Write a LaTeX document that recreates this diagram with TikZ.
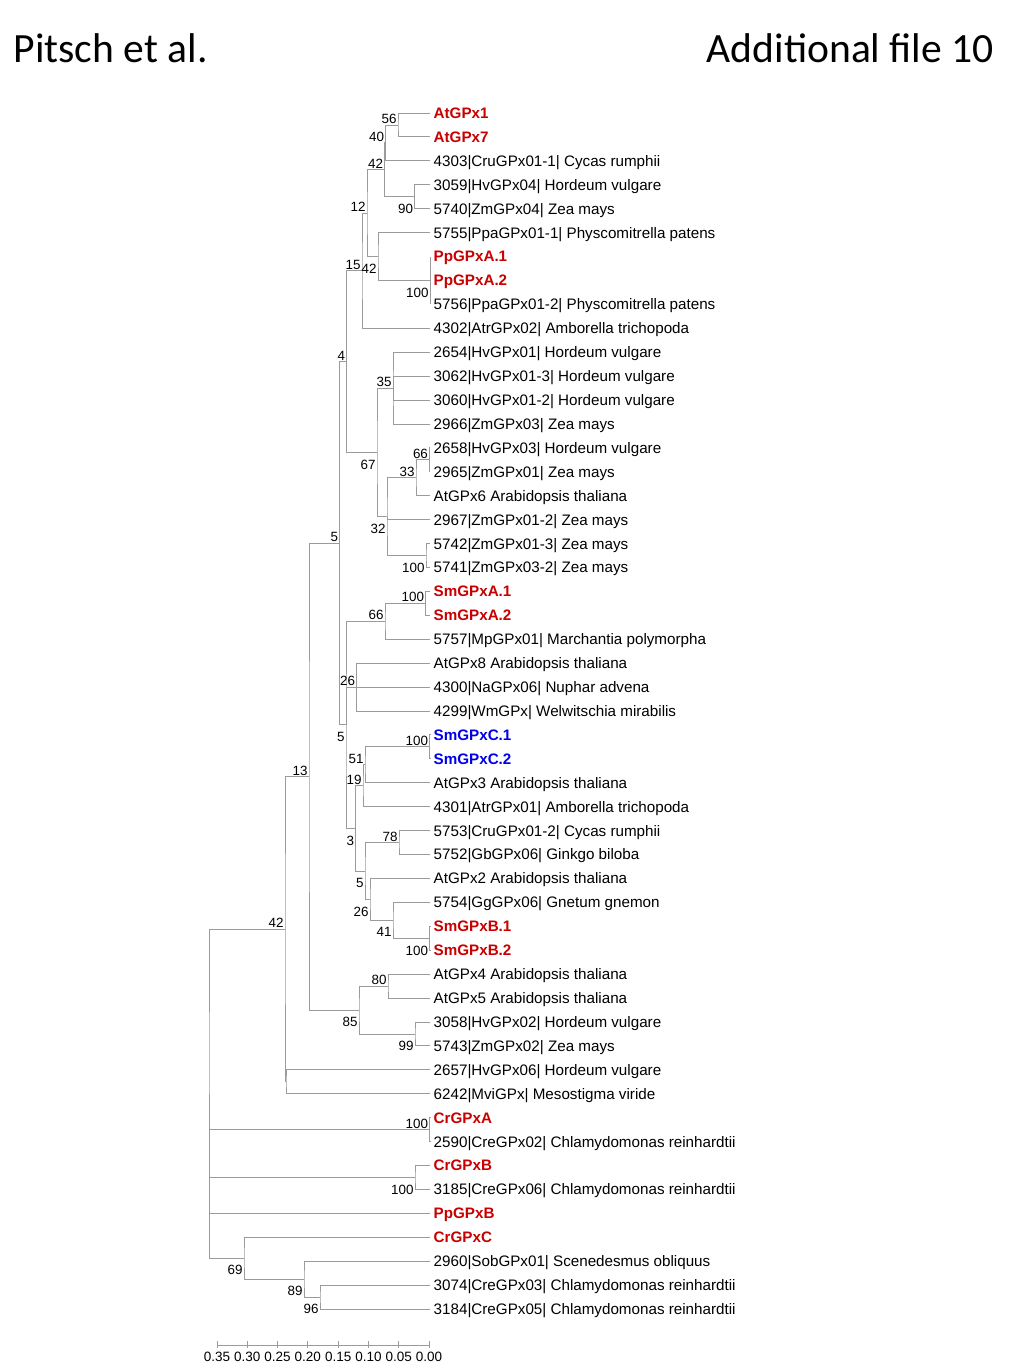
\documentclass[tikz,border=0pt]{standalone}
\usepackage{fontspec}
\setmainfont{Liberation Sans}
\newfontfamily\hdrfont{Carlito}
\definecolor{gpxred}{RGB}{200,0,0}
\definecolor{gpxblue}{RGB}{0,0,230}
\definecolor{branchgray}{RGB}{155,155,155}
\begin{document}
\begin{tikzpicture}[x=1pt,y=-1pt,
    leaf/.style={anchor=west,inner xsep=3.5pt,inner ysep=0pt,text height=10.9pt,text depth=0pt,font=\fontsize{15.2}{16}\selectfont},
    hl/.style={leaf,text=gpxred,font=\fontsize{15.2}{16}\selectfont\bfseries},
    hlb/.style={leaf,text=gpxblue,font=\fontsize{15.2}{16}\selectfont\bfseries},
    boot/.style={inner sep=1.2pt,font=\fontsize{13.4}{14}\selectfont},
    bup/.style={boot,above left},
    bdn/.style={boot,below left,yshift=-6pt},
    branch/.style={draw=branchgray,line width=0.9pt},
    hdr/.style={inner sep=0pt,font=\hdrfont\fontsize{41.6}{44}\selectfont}]
                \useasboundingbox (0,0) rectangle (1024,1365);
                \node[hdr,anchor=base west] (hdrl) at (13.5,62) {Pitsch et al.};
                \node[hdr,anchor=base east] (hdrr) at (994,62) {Additional file 10};

                \node[hl] (atgpx1) at (430,113.0) {AtGPx1};
                \node[hl] (atgpx7) at (430,136.9) {AtGPx7};
                \node[leaf] (cru1) at (430,160.8) {4303|CruGPx01-1| Cycas rumphii};
                \node[leaf] (hv04) at (430,184.8) {3059|HvGPx04| Hordeum vulgare};
                \node[leaf] (zm04) at (430,208.7) {5740|ZmGPx04| Zea mays};
                \node[leaf] (ppa1) at (430,232.6) {5755|PpaGPx01-1| Physcomitrella patens};
                \node[hl] (ppxa1) at (430,256.5) {PpGPxA.1};
                \node[hl] (ppxa2) at (430,280.4) {PpGPxA.2};
                \node[leaf] (ppa2) at (430,304.4) {5756|PpaGPx01-2| Physcomitrella patens};
                \node[leaf] (atr02) at (430,328.3) {4302|AtrGPx02| Amborella trichopoda};
                \node[leaf] (hv01) at (430,352.2) {2654|HvGPx01| Hordeum vulgare};
                \node[leaf] (hv013) at (430,376.1) {3062|HvGPx01-3| Hordeum vulgare};
                \node[leaf] (hv012) at (430,400.0) {3060|HvGPx01-2| Hordeum vulgare};
                \node[leaf] (zm03) at (430,424.0) {2966|ZmGPx03| Zea mays};
                \node[leaf] (hv03) at (430,447.9) {2658|HvGPx03| Hordeum vulgare};
                \node[leaf] (zm01) at (430,471.8) {2965|ZmGPx01| Zea mays};
                \node[leaf] (atgpx6) at (430,495.7) {AtGPx6 Arabidopsis thaliana};
                \node[leaf] (zm012) at (430,519.6) {2967|ZmGPx01-2| Zea mays};
                \node[leaf] (zm013) at (430,543.6) {5742|ZmGPx01-3| Zea mays};
                \node[leaf] (zm032) at (430,567.5) {5741|ZmGPx03-2| Zea mays};
                \node[hl] (smxa1) at (430,591.4) {SmGPxA.1};
                \node[hl] (smxa2) at (430,615.3) {SmGPxA.2};
                \node[leaf] (mp01) at (430,639.2) {5757|MpGPx01| Marchantia polymorpha};
                \node[leaf] (atgpx8) at (430,663.2) {AtGPx8 Arabidopsis thaliana};
                \node[leaf] (na06) at (430,687.1) {4300|NaGPx06| Nuphar advena};
                \node[leaf] (wm) at (430,711.0) {4299|WmGPx| Welwitschia mirabilis};
                \node[hlb] (smxc1) at (430,734.9) {SmGPxC.1};
                \node[hlb] (smxc2) at (430,758.8) {SmGPxC.2};
                \node[leaf] (atgpx3) at (430,782.8) {AtGPx3 Arabidopsis thaliana};
                \node[leaf] (atr01) at (430,806.7) {4301|AtrGPx01| Amborella trichopoda};
                \node[leaf] (cru2) at (430,830.6) {5753|CruGPx01-2| Cycas rumphii};
                \node[leaf] (gb06) at (430,854.5) {5752|GbGPx06| Ginkgo biloba};
                \node[leaf] (atgpx2) at (430,878.4) {AtGPx2 Arabidopsis thaliana};
                \node[leaf] (gg06) at (430,902.4) {5754|GgGPx06| Gnetum gnemon};
                \node[hl] (smxb1) at (430,926.3) {SmGPxB.1};
                \node[hl] (smxb2) at (430,950.2) {SmGPxB.2};
                \node[leaf] (atgpx4) at (430,974.1) {AtGPx4 Arabidopsis thaliana};
                \node[leaf] (atgpx5) at (430,998.0) {AtGPx5 Arabidopsis thaliana};
                \node[leaf] (hv02) at (430,1022.0) {3058|HvGPx02| Hordeum vulgare};
                \node[leaf] (zm02) at (430,1045.9) {5743|ZmGPx02| Zea mays};
                \node[leaf] (hv06) at (430,1069.8) {2657|HvGPx06| Hordeum vulgare};
                \node[leaf] (mvi) at (430,1093.7) {6242|MviGPx| Mesostigma viride};
                \node[hl] (crxa) at (430,1117.6) {CrGPxA};
                \node[leaf] (cre02) at (430,1141.6) {2590|CreGPx02| Chlamydomonas reinhardtii};
                \node[hl] (crxb) at (430,1165.5) {CrGPxB};
                \node[leaf] (cre06) at (430,1189.4) {3185|CreGPx06| Chlamydomonas reinhardtii};
                \node[hl] (ppxb) at (430,1213.3) {PpGPxB};
                \node[hl] (crxc) at (430,1237.2) {CrGPxC};
                \node[leaf] (sob01) at (430,1261.2) {2960|SobGPx01| Scenedesmus obliquus};
                \node[leaf] (cre03) at (430,1285.1) {3074|CreGPx03| Chlamydomonas reinhardtii};
                \node[leaf] (cre05) at (430,1309.0) {3184|CreGPx05| Chlamydomonas reinhardtii};

                \coordinate (i56) at (398,125.0);
                \coordinate (i40) at (385.5,142.9);
                \coordinate (i90) at (414.5,196.7);
                \coordinate (i42a) at (384.5,169.8);
                \coordinate (ippa) at (430,280.4);
                \coordinate (i42b) at (378,256.5);
                \coordinate (i12) at (367,213.2);
                \coordinate (i15) at (362,270.7);
                \coordinate (i4) at (346.5,361.5);
                \coordinate (i35) at (393,388.1);
                \coordinate (i66) at (429.3,459.9);
                \coordinate (i33) at (416,477.8);
                \coordinate (i100b) at (426,555.5);
                \coordinate (i32) at (387,516.7);
                \coordinate (i67) at (377,452.4);
                \coordinate (i5a) at (339.5,543.2);
                \coordinate (i100c) at (425.5,603.4);
                \coordinate (i66b) at (385,621.3);
                \coordinate (i26) at (356.5,687.1);
                \coordinate (i100d) at (429.5,746.9);
                \coordinate (i51) at (365,764.8);
                \coordinate (i19) at (363,785.8);
                \coordinate (i78) at (399,842.6);
                \coordinate (i100e) at (429.5,938.3);
                \coordinate (i41) at (393,920.3);
                \coordinate (i26b) at (370,899.4);
                \coordinate (i5c) at (365,871.0);
                \coordinate (i3) at (355.5,828.4);
                \coordinate (i5b) at (346,724.9);
                \coordinate (i80) at (388,986.1);
                \coordinate (i99) at (415,1034.0);
                \coordinate (i85) at (359,1010.0);
                \coordinate (i13) at (309,776.6);
                \coordinate (imvi) at (286,1081.8);
                \coordinate (i42r) at (285,929.2);
                \coordinate (i100f) at (429.5,1129.6);
                \coordinate (i100g) at (415,1177.5);
                \coordinate (i96) at (320,1297.1);
                \coordinate (i89) at (304,1279.2);
                \coordinate (i69) at (244,1258.2);
                \coordinate (iroot) at (209,1093.7);

                \draw[branch] (atgpx1.west) -| (i56) |- (atgpx7.west);
                \draw[branch] (i56) -| (i40) |- (cru1.west);
                \draw[branch] (hv04.west) -| (i90) |- (zm04.west);
                \draw[branch] (i40) -| (i42a) |- (i90);
                \draw[branch] (ppxa1.west) -- (ppa2.west);
                \draw[branch] (ppa1.west) -| (i42b) |- (ippa);
                \draw[branch] (i42a) -| (i12) |- (i42b);
                \draw[branch] (i12) -| (i15) |- (atr02.west);
                \draw[branch] (hv01.west) -| (i35) |- (zm03.west);
                \draw[branch] (i35) |- (hv013.west);
                \draw[branch] (i35) |- (hv012.west);
                \draw[branch] (hv03.west) -| (i66) |- (zm01.west);
                \draw[branch] (i66) -| (i33) |- (atgpx6.west);
                \draw[branch] (zm013.west) -| (i100b) |- (zm032.west);
                \draw[branch] (i33) -| (i32) |- (i100b);
                \draw[branch] (i32) |- (zm012.west);
                \draw[branch] (i35) -| (i67) |- (i32);
                \draw[branch] (i15) -| (i4) |- (i67);
                \draw[branch] (smxa1.west) -| (i100c) |- (smxa2.west);
                \draw[branch] (i100c) -| (i66b) |- (mp01.west);
                \draw[branch] (atgpx8.west) -| (i26) |- (wm.west);
                \draw[branch] (i26) |- (na06.west);
                \draw[branch] (smxc1.west) -| (i100d) |- (smxc2.west);
                \draw[branch] (i100d) -| (i51) |- (atgpx3.west);
                \draw[branch] (i51) -| (i19) |- (atr01.west);
                \draw[branch] (cru2.west) -| (i78) |- (gb06.west);
                \draw[branch] (smxb1.west) -| (i100e) |- (smxb2.west);
                \draw[branch] (gg06.west) -| (i41) |- (i100e);
                \draw[branch] (atgpx2.west) -| (i26b) |- (i41);
                \draw[branch] (i78) -| (i5c) |- (i26b);
                \draw[branch] (i19) -| (i3) |- (i5c);
                \draw[branch] (i66b) -| (i5b) |- (i3);
                \draw[branch] (i5b) |- (i26);
                \draw[branch] (i4) -| (i5a) |- (i5b);
                \draw[branch] (atgpx4.west) -| (i80) |- (atgpx5.west);
                \draw[branch] (hv02.west) -| (i99) |- (zm02.west);
                \draw[branch] (i80) -| (i85) |- (i99);
                \draw[branch] (i5a) -| (i13) |- (i85);
                \draw[branch] (hv06.west) -| (imvi) |- (mvi.west);
                \draw[branch] (i13) -| (i42r) |- (imvi);
                \draw[branch] (crxa.west) -| (i100f) |- (cre02.west);
                \draw[branch] (crxb.west) -| (i100g) |- (cre06.west);
                \draw[branch] (cre03.west) -| (i96) |- (cre05.west);
                \draw[branch] (sob01.west) -| (i89) |- (i96);
                \draw[branch] (crxc.west) -| (i69) |- (i89);
                \draw[branch] (i42r) -| (iroot) |- (i69);
                \draw[branch] (iroot) |- (i100f);
                \draw[branch] (iroot) |- (i100g);
                \draw[branch] (iroot) |- (ppxb.west);

                \node[bup] (b56) at (i56) {56};
                \node[bup] (b40) at (i40) {40};
                \node[bdn] (b90) at (i90) {90};
                \node[bup] (b42a) at (i42a) {42};
                \node[bdn] (bppa) at (ippa) {100};
                \node[bdn] (b42b) at (i42b) {42};
                \node[bup] (b12) at (i12) {12};
                \node[bup] (b15) at (i15) {15};
                \node[bup] (b4) at (i4) {4};
                \node[bup] (b35) at (i35) {35};
                \node[bup] (b66) at (i66) {66};
                \node[bup] (b33) at (i33) {33};
                \node[bdn] (b100b) at (i100b) {100};
                \node[bdn] (b32) at (i32) {32};
                \node[bdn] (b67) at (i67) {67};
                \node[bup] (b5a) at (i5a) {5};
                \node[bup] (b100c) at (i100c) {100};
                \node[bup] (b66b) at (i66b) {66};
                \node[bup] (b26) at (i26) {26};
                \node[bup] (b100d) at (i100d) {100};
                \node[bup] (b51) at (i51) {51};
                \node[bup] (b19) at (i19) {19};
                \node[bup] (b78) at (i78) {78};
                \node[bdn] (b100e) at (i100e) {100};
                \node[bdn] (b41) at (i41) {41};
                \node[bdn] (b26b) at (i26b) {26};
                \node[bdn] (b5c) at (i5c) {5};
                \node[bdn] (b3) at (i3) {3};
                \node[bdn] (b5b) at (i5b) {5};
                \node[bup] (b80) at (i80) {80};
                \node[bdn] (b99) at (i99) {99};
                \node[bdn] (b85) at (i85) {85};
                \node[bup] (b13) at (i13) {13};
                \node[bup] (b42r) at (i42r) {42};
                \node[bup] (b100f) at (i100f) {100};
                \node[bdn] (b100g) at (i100g) {100};
                \node[bdn] (b96) at (i96) {96};
                \node[bdn] (b89) at (i89) {89};
                \node[bdn] (b69) at (i69) {69};

                \coordinate (sbl) at (217,1345);
                \coordinate (sbr) at (429,1345);
                \draw[branch] (sbl) -- (sbr);
                \foreach \v [count=\k from 0] in {0.35,0.30,0.25,0.20,0.15,0.10,0.05,0.00} {
                    \pgfmathsetmacro{\sx}{217+30.286*\k}
                    \draw[branch] (\sx,1341) -- (\sx,1348);
                    \node[inner sep=0pt,font=\fontsize{13.5}{14}\selectfont] (tick\k) at (\sx,1357) {\v};
                }
            \end{tikzpicture}
\end{document}
